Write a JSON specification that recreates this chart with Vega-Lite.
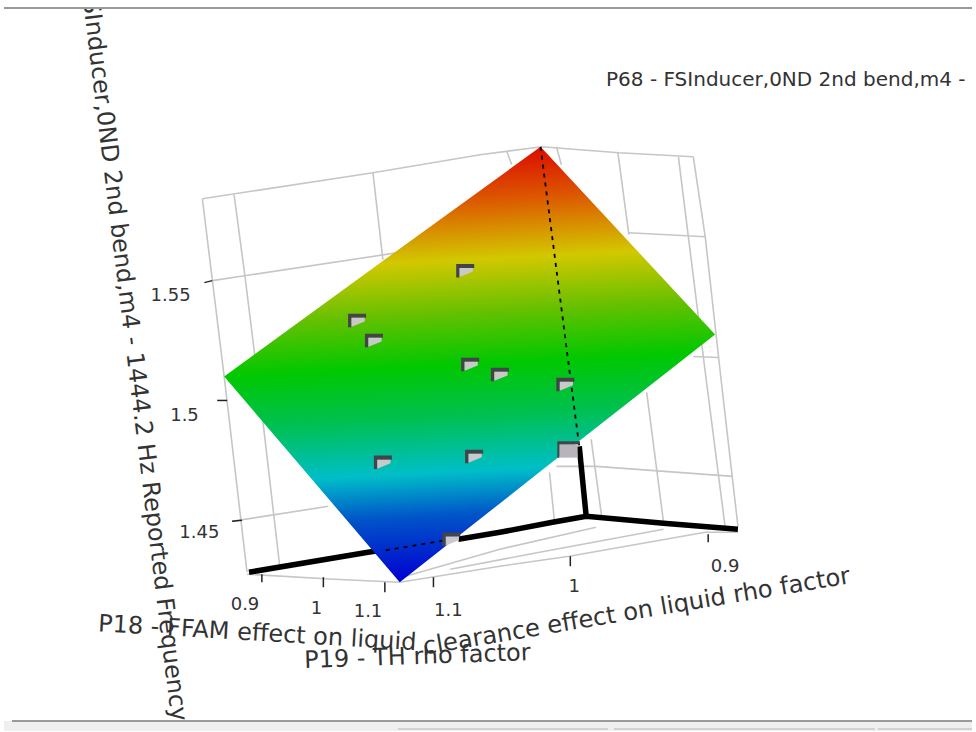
{
"$schema":"https://vega.github.io/schema/vega-lite/v6.json",
"autosize":{"type":"fit","contains":"padding"},
"width":976,"height":732,"padding":0,
"background":"#ffffff",
"config":{"view":{"stroke":null},"axis":{"domain":false},"text":{"font":"DejaVu Sans"}},
"encoding":{
"x":{"field":"sx","type":"quantitative","scale":{"domain":[0,976],"nice":false,"zero":false},"axis":null},
"y":{"field":"sy","type":"quantitative","scale":{"domain":[732,0],"nice":false,"zero":false},"axis":null}
},
"layer":[
{"data":{"values":[
{"g":"l1","sx":200,"sy":199},{"g":"l1","sx":210,"sy":280},{"g":"l1","sx":222,"sy":377},{"g":"l1","sx":245,"sy":573},
{"g":"l2","sx":232,"sy":195},{"g":"l2","sx":243,"sy":277},{"g":"l2","sx":253,"sy":357},{"g":"l2","sx":262,"sy":430},{"g":"l2","sx":278,"sy":567},
{"g":"l3","sx":372,"sy":173},{"g":"l3","sx":382,"sy":260},
{"g":"l4","sx":507,"sy":152},{"g":"l4","sx":512,"sy":165},
{"g":"l5","sx":557,"sy":147},{"g":"l5","sx":562,"sy":165},
{"g":"l6","sx":619,"sy":153},{"g":"l6","sx":630,"sy":235},
{"g":"l7","sx":680,"sy":157},{"g":"l7","sx":690,"sy":237},{"g":"l7","sx":708,"sy":380},{"g":"l7","sx":727,"sy":527},
{"g":"l8","sx":695,"sy":157},{"g":"l8","sx":707,"sy":237},{"g":"l8","sx":723,"sy":380},{"g":"l8","sx":740,"sy":527},
{"g":"l9","sx":648,"sy":393},{"g":"l9","sx":665,"sy":523},
{"g":"l10","sx":592,"sy":440},{"g":"l10","sx":603,"sy":520},
{"g":"l11","sx":550,"sy":473},{"g":"l11","sx":555,"sy":522},
{"g":"top","sx":200,"sy":199},{"g":"top","sx":372,"sy":173},{"g":"top","sx":480,"sy":155},{"g":"top","sx":542,"sy":147},{"g":"top","sx":620,"sy":153},{"g":"top","sx":695,"sy":157},
{"g":"z1","sx":210,"sy":281},{"g":"z1","sx":397,"sy":253},
{"g":"z2","sx":630,"sy":233},{"g":"z2","sx":707,"sy":237},
{"g":"z3","sx":695,"sy":357},{"g":"z3","sx":720,"sy":358},
{"g":"z4","sx":230,"sy":522},{"g":"z4","sx":327,"sy":507},
{"g":"z5","sx":557,"sy":467},{"g":"z5","sx":597,"sy":467},{"g":"z5","sx":735,"sy":477},
{"g":"f1","sx":245,"sy":575},{"g":"f1","sx":333,"sy":580},{"g":"f1","sx":399,"sy":583},{"g":"f1","sx":500,"sy":567},{"g":"f1","sx":570,"sy":557},{"g":"f1","sx":707,"sy":533},{"g":"f1","sx":740,"sy":533},
{"g":"f2","sx":405,"sy":577},{"g":"f2","sx":500,"sy":550},{"g":"f2","sx":597,"sy":528},
{"g":"f3","sx":450,"sy":570},{"g":"f3","sx":540,"sy":553},{"g":"f3","sx":665,"sy":530}
]},"mark":{"type":"line","color":"#c6c6c6","strokeWidth":1.6},"encoding":{"detail":{"field":"g"}}},
{"data":{"values":[
{"g":"a1","sx":247,"sy":573},{"g":"a1","sx":367,"sy":553},{"g":"a1","sx":400,"sy":548},
{"g":"a2","sx":458,"sy":540},{"g":"a2","sx":500,"sy":533},{"g":"a2","sx":553,"sy":523},{"g":"a2","sx":587,"sy":517},{"g":"a2","sx":665,"sy":524},{"g":"a2","sx":740,"sy":530},
{"g":"a3","sx":587,"sy":517},{"g":"a3","sx":580,"sy":447}
]},"mark":{"type":"line","color":"#000000","strokeWidth":5.5},"encoding":{"detail":{"field":"g"}}},
{"data":{"values":[
{"sx":222,"sy":377,"sy2":377},{"sx":399,"sy":249,"sy2":583},{"sx":541,"sy":147,"sy2":472},{"sx":717,"sy":335,"sy2":335}
]},"mark":{"type":"area","color":{"gradient":"linear","x1":0.644,"y1":0,"x2":0.699,"y2":0.98,"stops":[
{"offset":0,"color":"#dc0a00"},
{"offset":0.12,"color":"#dc5a00"},
{"offset":0.255,"color":"#d2c800"},
{"offset":0.38,"color":"#64c000"},
{"offset":0.5,"color":"#00c800"},
{"offset":0.62,"color":"#00c050"},
{"offset":0.75,"color":"#00bec8"},
{"offset":0.85,"color":"#0055c8"},
{"offset":1,"color":"#0000d2"}
]}},"encoding":{"y2":{"field":"sy2"}}},
{"data":{"values":[
{"g":"d1","sx":541,"sy":147},{"g":"d1","sx":580,"sy":447},
{"g":"d2","sx":385,"sy":551},{"g":"d2","sx":445,"sy":541}
]},"mark":{"type":"line","color":"#000000","strokeWidth":1.8,"strokeDash":[4,5]},"encoding":{"detail":{"field":"g"}}},
{"data":{"values":[
{"g":"t1","sx":260,"sy":575},{"g":"t1","sx":260,"sy":583},
{"g":"t2","sx":322,"sy":578},{"g":"t2","sx":322,"sy":588},
{"g":"t3","sx":384,"sy":583},{"g":"t3","sx":384,"sy":593},
{"g":"t4","sx":433,"sy":578},{"g":"t4","sx":433,"sy":588},
{"g":"t5","sx":571,"sy":557},{"g":"t5","sx":571,"sy":567},
{"g":"t6","sx":710,"sy":535},{"g":"t6","sx":710,"sy":543},
{"g":"t7","sx":202,"sy":283},{"g":"t7","sx":210,"sy":281},
{"g":"t8","sx":215,"sy":401},{"g":"t8","sx":225,"sy":401},
{"g":"t9","sx":230,"sy":522},{"g":"t9","sx":240,"sy":521}
]},"mark":{"type":"line","color":"#222222","strokeWidth":1.5},"encoding":{"detail":{"field":"g"}}},
{"data":{"name":"pts","values":[
{"sx":465,"sy":271},{"sx":356,"sy":321},{"sx":373,"sy":341},{"sx":470,"sy":365},{"sx":500,"sy":375},{"sx":566,"sy":385},{"sx":382,"sy":463},{"sx":474,"sy":457},{"sx":451,"sy":540}
]},"mark":{"type":"point","filled":true,"shape":"M-1,-.75H1V-.3H-.62V.75H-1Z","color":"#45434a","size":324,"opacity":1}},
{"data":{"name":"pts"},"mark":{"type":"point","filled":true,"shape":"M-.62,-.3H.85V.1L-.62,.7Z","color":"#c9c9c9","size":324,"opacity":1}},
{"data":{"name":"pts2","values":[{"sx":569,"sy":450}]},"mark":{"type":"point","filled":true,"shape":"M-1,-.75H1V-.45H-.8V.75H-1Z","color":"#45434a","size":484,"opacity":1}},
{"data":{"name":"pts2"},"mark":{"type":"point","filled":true,"shape":"M-.8,-.45H.85V.75H-.8Z","color":"#b9b3bb","size":484,"opacity":1}},
{"data":{"values":[
{"sx":168,"sy":296,"t":"1.55"},{"sx":182,"sy":417,"t":"1.5"},{"sx":197,"sy":534,"t":"1.45"},
{"sx":243,"sy":606,"t":"0.9"},{"sx":315,"sy":610,"t":"1"},{"sx":367,"sy":613,"t":"1.1"},{"sx":448,"sy":612,"t":"1.1"},{"sx":575,"sy":588,"t":"1"},{"sx":727,"sy":568,"t":"0.9"}
]},"mark":{"type":"text","fontSize":18,"color":"#333333","align":"center","baseline":"middle"},"encoding":{"text":{"field":"t"}}},
{"data":{"values":[{"sx":607,"sy":80,"t":"P68 - FSInducer,0ND 2nd bend,m4 - 1444.2 Hz Reported Frequency"}]},
"mark":{"type":"text","fontSize":20,"color":"#333333","align":"left","baseline":"middle","clip":true},"encoding":{"text":{"field":"t"}}},
{"data":{"values":[{"sx":95,"sy":625,"t":"P18 - FFAM effect on liquid"}]},
"mark":{"type":"text","fontSize":24,"angle":3.4,"color":"#333333","align":"left","baseline":"middle"},"encoding":{"text":{"field":"t"}}},
{"data":{"values":[{"sx":853,"sy":577,"t":"clearance effect on liquid rho factor"}]},
"mark":{"type":"text","fontSize":24.2,"angle":-9.5,"color":"#333333","align":"right","baseline":"middle"},"encoding":{"text":{"field":"t"}}},
{"data":{"values":[{"sx":531,"sy":654,"t":"P19 - TH rho factor"}]},
"mark":{"type":"text","fontSize":24,"angle":-2,"color":"#333333","align":"right","baseline":"middle"},"encoding":{"text":{"field":"t"}}},
{"data":{"values":[{"sx":176,"sy":722,"t":"P68 - FSInducer,0ND 2nd bend,m4 - 1444.2 Hz Reported Frequency"}]},
"mark":{"type":"text","fontSize":24,"angle":83,"color":"#333333","align":"right","baseline":"middle","clip":true},"encoding":{"text":{"field":"t"}}},
{"data":{"values":[{"sx":0,"sy":0,"sx2":976,"sy2":8}]},
"mark":{"type":"rect","color":"#ffffff"},"encoding":{"x2":{"field":"sx2"},"y2":{"field":"sy2"}}},
{"data":{"values":[{"sx":0,"sy":722,"sx2":976,"sy2":732}]},
"mark":{"type":"rect","color":"#efefef"},"encoding":{"x2":{"field":"sx2"},"y2":{"field":"sy2"}}},
{"data":{"values":[
{"g":"top","sx":0,"sy":8},{"g":"top","sx":976,"sy":8},
{"g":"bot","sx":8,"sy":722},{"g":"bot","sx":976,"sy":722}
]},"mark":{"type":"line","color":"#9a9a9a","strokeWidth":2},"encoding":{"detail":{"field":"g"}}},
{"data":{"values":[
{"g":"b1","sx":397,"sy":730},{"g":"b1","sx":609,"sy":730},
{"g":"b2","sx":615,"sy":730},{"g":"b2","sx":878,"sy":730},
{"g":"b3","sx":881,"sy":730},{"g":"b3","sx":976,"sy":730}
]},"mark":{"type":"line","color":"#c8c8c8","strokeWidth":1.5},"encoding":{"detail":{"field":"g"}}}
]
}
